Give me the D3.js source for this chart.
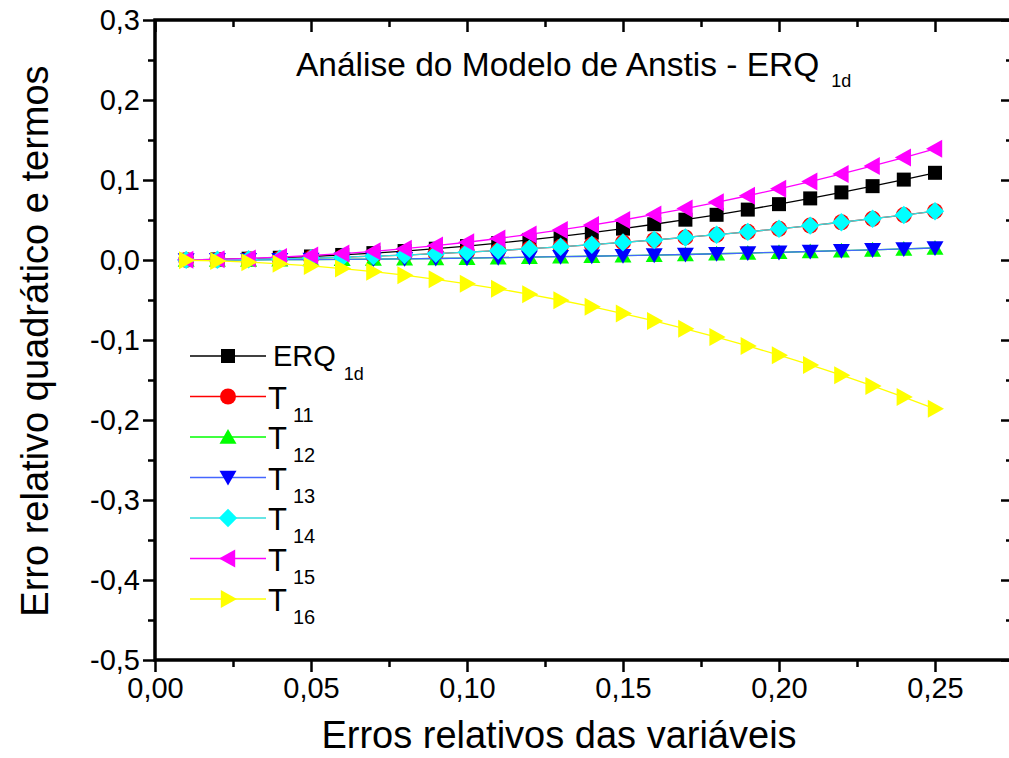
<!DOCTYPE html>
<html><head><meta charset="utf-8">
<script src="https://cdn.jsdelivr.net/npm/d3@7"></script>
<style>
html,body{margin:0;padding:0;background:#fff;}
svg{display:block;font-family:"Liberation Sans",Arial,sans-serif;}
</style></head>
<body>
<svg id="chart" width="1009" height="758"></svg>
<script>
const xValues = [0.01,0.02,0.03,0.04,0.05,0.06,0.07,0.08,0.09,0.10,0.11,0.12,0.13,0.14,0.15,0.16,0.17,0.18,0.19,0.20,0.21,0.22,0.23,0.24,0.25];
const erq1d = [0.0002,0.0007,0.0016,0.0028,0.0044,0.0063,0.0086,0.0112,0.0141,0.0174,0.0211,0.0251,0.0295,0.0342,0.0392,0.0447,0.0504,0.0565,0.0630,0.0698,0.0770,0.0845,0.0923,0.1005,0.1090];
const t11 = [0.0001,0.0004,0.0009,0.0016,0.0024,0.0035,0.0048,0.0062,0.0079,0.0098,0.0118,0.0141,0.0165,0.0191,0.0220,0.0250,0.0282,0.0316,0.0352,0.0390,0.0430,0.0472,0.0516,0.0562,0.0610];
const t12 = [0.0000,0.0001,0.0002,0.0004,0.0006,0.0009,0.0012,0.0015,0.0019,0.0024,0.0029,0.0035,0.0041,0.0047,0.0054,0.0061,0.0069,0.0078,0.0087,0.0096,0.0106,0.0116,0.0127,0.0138,0.0150];
const t13 = [0.0000,0.0001,0.0002,0.0004,0.0006,0.0009,0.0012,0.0015,0.0019,0.0024,0.0029,0.0035,0.0041,0.0047,0.0054,0.0061,0.0069,0.0078,0.0087,0.0096,0.0106,0.0116,0.0127,0.0138,0.0150];
const t14 = [0.0001,0.0004,0.0009,0.0016,0.0024,0.0035,0.0048,0.0062,0.0079,0.0098,0.0118,0.0141,0.0165,0.0191,0.0220,0.0250,0.0282,0.0316,0.0352,0.0390,0.0430,0.0472,0.0516,0.0562,0.0610];
const t15 = [0.0002,0.0009,0.0020,0.0036,0.0056,0.0080,0.0109,0.0142,0.0180,0.0222,0.0269,0.0320,0.0376,0.0436,0.0500,0.0569,0.0643,0.0721,0.0803,0.0890,0.0981,0.1076,0.1176,0.1281,0.1390];
const t16 = [-0.0003,-0.0012,-0.0027,-0.0048,-0.0074,-0.0107,-0.0146,-0.0190,-0.0241,-0.0298,-0.0360,-0.0429,-0.0503,-0.0583,-0.0670,-0.0762,-0.0860,-0.0964,-0.1074,-0.1190,-0.1312,-0.1440,-0.1574,-0.1714,-0.1860];

const seriesNames = ["ERQ","T","T","T","T","T","T"];
const seriesSubs = ["1d","11","12","13","14","15","16"];
const seriesColors = ["#000000","#ff0000","#00ff00","#0000ff","#00ffff","#ff00ff","#ffff00"];
const lineColors = ["#000000","#ff0000","#00ff00","#4466ff","#33dddd","#ff00ff","#ffff00"];
const seriesShapes = ["square","circle","triUp","triDown","diamond","triLeft","triRight"];
const seriesValues = [erq1d,t11,t12,t13,t14,t15,t16];

const xMajorTicks = [0,0.05,0.10,0.15,0.20,0.25];
const yMajorTicks = [0.3,0.2,0.1,0.0,-0.1,-0.2,-0.3,-0.4,-0.5];

const svg = d3.select("#chart");
const L=155, R=1013, T=20, B=660;
const x = d3.scaleLinear().domain([0,0.275]).range([L,R]);
const y = d3.scaleLinear().domain([-0.5,0.3]).range([B,T]);
const fmtX = d => d3.format(".2f")(d).replace(".",",");
const fmtY = d => d3.format(".1f")(d).replace(".",",").replace("−","-");

const xMinor = d3.range(0,0.2751,0.025).filter(v=>!xMajorTicks.some(m=>Math.abs(m-v)<1e-9));
const yMinor = d3.range(-0.45,0.3,0.1);

function styleAxis(g){ g.select(".domain").remove(); g.selectAll("line").attr("stroke","#000").attr("stroke-width",2.5); }
const fs = "29px";
const xAxisB = d3.axisBottom(x).tickValues(xMajorTicks).tickSize(12).tickPadding(5).tickFormat(fmtX);
svg.append("g").attr("transform",`translate(0,${B})`).call(xAxisB).call(styleAxis)
  .selectAll("text").attr("font-size",fs).attr("font-family","Liberation Sans, Arial, sans-serif").attr("fill","#000");
svg.append("g").attr("transform",`translate(0,${B})`).call(d3.axisBottom(x).tickValues(xMinor).tickSize(7).tickFormat("")).call(styleAxis);
svg.append("g").attr("transform",`translate(0,${T})`).call(d3.axisBottom(x).tickValues(xMajorTicks).tickSize(12).tickFormat("")).call(styleAxis);
svg.append("g").attr("transform",`translate(0,${T})`).call(d3.axisBottom(x).tickValues(xMinor).tickSize(7).tickFormat("")).call(styleAxis);

const yAxisL = d3.axisLeft(y).tickValues(yMajorTicks).tickSize(12).tickPadding(3).tickFormat(fmtY);
svg.append("g").attr("transform",`translate(${L},0)`).call(yAxisL).call(styleAxis)
  .selectAll("text").attr("font-size",fs).attr("font-family","Liberation Sans, Arial, sans-serif").attr("fill","#000");
svg.append("g").attr("transform",`translate(${L},0)`).call(d3.axisLeft(y).tickValues(yMinor).tickSize(7).tickFormat("")).call(styleAxis);
svg.append("g").attr("transform",`translate(${R},0)`).call(d3.axisLeft(y).tickValues(yMajorTicks).tickSize(12).tickFormat("")).call(styleAxis);
svg.append("g").attr("transform",`translate(${R},0)`).call(d3.axisLeft(y).tickValues(yMinor).tickSize(7).tickFormat("")).call(styleAxis);

svg.append("rect").attr("x",L).attr("y",T).attr("width",R-L).attr("height",B-T)
  .attr("fill","none").attr("stroke","#000").attr("stroke-width",3.5);

function shapePath(shape, s){
  const h=s/2;
  switch(shape){
    case "square": return `M${-h},${-h}H${h}V${h}H${-h}Z`;
    case "triUp": return `M0,${-h*0.95}L${h},${h*0.8}L${-h},${h*0.8}Z`;
    case "triDown": return `M0,${h*0.95}L${h},${-h*0.8}L${-h},${-h*0.8}Z`;
    case "triLeft": return `M${-h},0L${h*0.8},${-h}L${h*0.8},${h}Z`;
    case "triRight": return `M${h},0L${-h*0.8},${-h}L${-h*0.8},${h}Z`;
    case "diamond": return `M0,${-h*1.15}L${h*1.15},0L0,${h*1.15}L${-h*1.15},0Z`;
  }
  return null;
}
const sizes = {square:14,circle:16,triUp:17,triDown:17,diamond:16,triLeft:18,triRight:18};

const line = d3.line().x((d,i)=>x(xValues[i])).y(d=>y(d));
seriesValues.forEach((vals,si)=>{
  const g = svg.append("g");
  g.append("path").datum(vals).attr("d",line).attr("fill","none")
    .attr("stroke",lineColors[si]).attr("stroke-width",1.3);
  const shape = seriesShapes[si];
  vals.forEach((v,i)=>{
    const cx=x(xValues[i]), cy=y(v);
    if(shape==="circle"){
      g.append("circle").attr("cx",cx).attr("cy",cy).attr("r",sizes.circle/2).attr("fill",seriesColors[si]);
    } else {
      g.append("path").attr("d",shapePath(shape,sizes[shape])).attr("transform",`translate(${cx},${cy})`).attr("fill",seriesColors[si]);
    }
  });
});

const title = svg.append("text").attr("x",296).attr("y",76).attr("font-size","33.5px").attr("fill","#000");
title.append("tspan").text("Análise do Modelo de Anstis - ERQ");
title.append("tspan").attr("dx",12).attr("dy",11).attr("font-size","18px").text("1d");

svg.append("text").attr("x",559).attr("y",748).attr("text-anchor","middle").attr("font-size","38px").attr("fill","#000").text("Erros relativos das variáveis");
svg.append("text").attr("transform","translate(48,341) rotate(-90)").attr("text-anchor","middle").attr("font-size","38px").attr("fill","#000").text("Erro relativo quadrático e termos");

const legY0 = 356, legDy = 40.5;
seriesValues.forEach((vals,si)=>{
  const ly = legY0 + si*legDy;
  const g = svg.append("g");
  g.append("line").attr("x1",190).attr("x2",266).attr("y1",ly).attr("y2",ly).attr("stroke",lineColors[si]).attr("stroke-width",1.3);
  const shape = seriesShapes[si];
  if(shape==="circle") g.append("circle").attr("cx",228).attr("cy",ly).attr("r",8).attr("fill",seriesColors[si]);
  else g.append("path").attr("d",shapePath(shape,sizes[shape])).attr("transform",`translate(228,${ly})`).attr("fill",seriesColors[si]);
  const t = g.append("text").attr("x", si===0?273:268).attr("y",ly+(si===0?10:12)).attr("font-size", si===0?"29px":"31px").attr("fill","#000");
  t.append("tspan").text(seriesNames[si]);
  t.append("tspan").attr("dx", si===0?8:6).attr("dy", si===0?14:13).attr("font-size", si===0?"18px":"20px").text(seriesSubs[si]);
});
</script>
</body></html>
